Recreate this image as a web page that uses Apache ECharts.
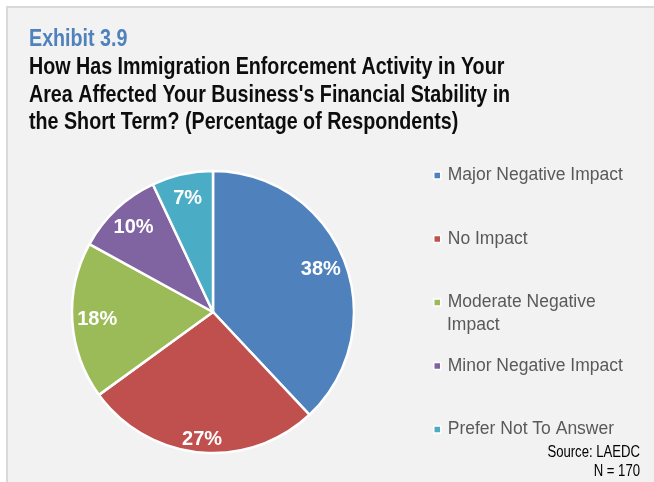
<!DOCTYPE html>
<html>
<head>
  <meta charset="UTF-8">
  <title>Exhibit 3.9</title>
  <script src="https://cdn.jsdelivr.net/npm/echarts@6/dist/echarts.min.js"></script>
  <style>
    body { margin: 0; background: #fff; }
    #main { width: 654px; height: 482px; }
  </style>
</head>
<body>
<div id="main"></div>
<script type="text/javascript">
  // survey answers, share of respondents (%)
  var categories = ['Major Negative Impact', 'No Impact', 'Moderate Negative Impact', 'Minor Negative Impact', 'Prefer Not To Answer'];
  var shares = [38, 27, 18, 10, 7];
  var colors = ['#4f81bd', '#c0504d', '#9bbb59', '#8064a2', '#4bacc6'];

  var titleLines = [
    'How Has Immigration Enforcement Activity in Your',
    'Area Affected Your Business\'s Financial Stability in',
    'the Short Term? (Percentage of Respondents)'
  ];

  var FONT = '"Liberation Sans", Arial, sans-serif';
  // no Arial Narrow here, so squeeze the big texts sideways instead
  var NARROW = 0.82;

  var pieData = categories.map(function(name, i) {
    return { name: name, value: shares[i], itemStyle: { color: colors[i] } };
  });

  // see-through ring only used to put the % labels further out than 'inside' does
  var labelData = categories.map(function(name, i) {
    var d = { name: name, value: shares[i] };
    if (i === 1) d.label = { offset: [0, 12] };
    return d;
  });

  var myChart = echarts.init(document.getElementById('main'));

  var option = {
    backgroundColor: '#ffffff',
    animation: false,
    graphic: [
      {
        type: 'rect', z: -10, silent: true,
        shape: { x: 7, y: 7, width: 700, height: 520 },
        style: { fill: '#f2f2f2', stroke: '#d9d9d9', lineWidth: 2 }
      },
      {
        type: 'text', x: 29, y: 26, scaleX: NARROW, silent: true,
        style: { text: 'Exhibit 3.9', font: 'bold 24px ' + FONT, fill: '#4f81bd', lineHeight: 27.5, verticalAlign: 'top' }
      },
      {
        type: 'text', x: 29, y: 54, scaleX: NARROW, silent: true,
        style: { text: titleLines.join('\n'), font: 'bold 24px ' + FONT, fill: '#0d0d0d', lineHeight: 27.5, verticalAlign: 'top' }
      },
      {
        type: 'text', x: 447, y: 325, silent: true,
        style: { text: 'Impact', font: '17.5px ' + FONT, fill: '#595959', verticalAlign: 'middle' }
      },
      {
        type: 'text', x: 640, y: 453, scaleX: NARROW, silent: true,
        style: { text: 'Source: LAEDC', font: '16px ' + FONT, fill: '#000', align: 'right', verticalAlign: 'middle' }
      },
      {
        type: 'text', x: 640, y: 472, scaleX: NARROW, silent: true,
        style: { text: 'N = 170', font: '16px ' + FONT, fill: '#000', align: 'right', verticalAlign: 'middle' }
      }
    ],
    legend: {
      orient: 'vertical',
      left: 428,
      top: 160,
      itemWidth: 7,
      itemHeight: 7,
      itemGap: 42.5,
      icon: 'rect',
      selectedMode: false,
      data: categories,
      formatter: function(name) {
        return name === 'Moderate Negative Impact' ? 'Moderate Negative' : name;
      },
      itemStyle: { borderColor: '#ffffff', borderWidth: 1.5 },
      textStyle: { fontFamily: FONT, fontSize: 17.5, color: '#595959', lineHeight: 21, padding: [0, 0, 0, 2] }
    },
    series: [
      {
        name: 'Financial Stability',
        type: 'pie',
        center: [213, 312],
        radius: [0, 141],
        startAngle: 90,
        clockwise: true,
        label: { show: false },
        labelLine: { show: false },
        itemStyle: { borderColor: '#ffffff', borderWidth: 2.5 },
        data: pieData
      },
      {
        name: 'Labels',
        type: 'pie',
        center: [213, 312],
        radius: [85, 141],
        startAngle: 90,
        clockwise: true,
        silent: true,
        itemStyle: { color: 'rgba(0,0,0,0)' },
        label: {
          show: true,
          position: 'inside',
          formatter: '{c}%',
          fontFamily: FONT,
          fontWeight: 'bold',
          fontSize: 20,
          color: '#ffffff'
        },
        labelLine: { show: false },
        data: labelData
      }
    ]
  };

  myChart.setOption(option);
</script>
</body>
</html>
